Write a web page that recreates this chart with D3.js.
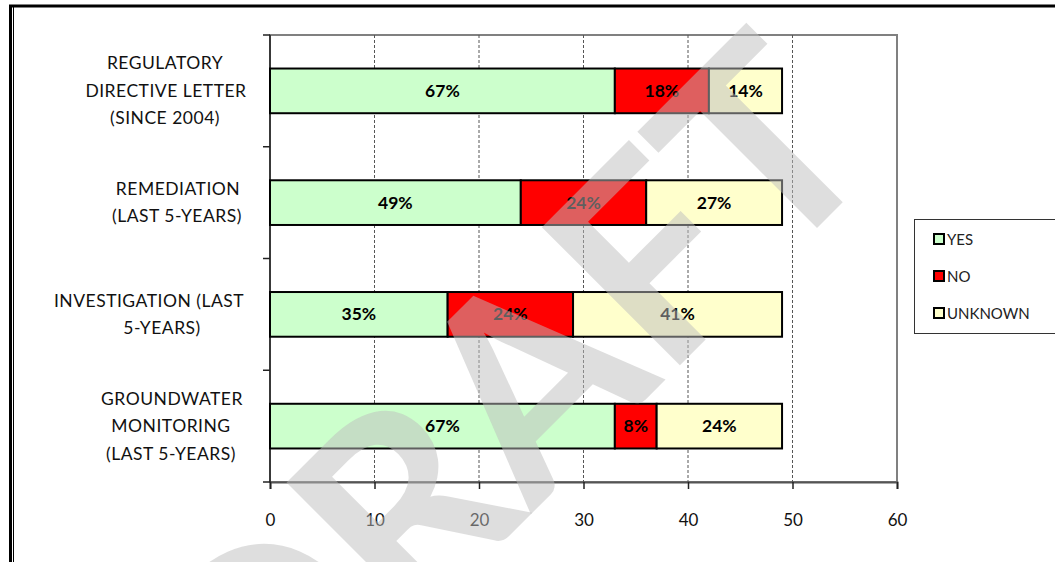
<!DOCTYPE html>
<html>
<head>
<meta charset="utf-8">
<script src="https://cdn.jsdelivr.net/npm/d3@7"></script>
<style>
  body { margin: 0; background: #fff; }
  svg text { font-family: Lato, "Open Sans", sans-serif; }
</style>
</head>
<body>
<div id="vis-container"></div>
<script>
const width = 1055;
const height = 562;
const margin = { top: 35, right: 158, bottom: 80, left: 270 };

// data (counts, bar totals = 49)
const categories = [
  ["REGULATORY", "DIRECTIVE LETTER", "(SINCE 2004)"],
  ["REMEDIATION", "(LAST 5-YEARS)"],
  ["INVESTIGATION (LAST", "5-YEARS)"],
  ["GROUNDWATER", "MONITORING", "(LAST 5-YEARS)"]
];
const seriesNames = ["YES", "NO", "UNKNOWN"];
const yesValues = [33, 24, 17, 33];
const noValues = [9, 12, 12, 4];
const unknownValues = [7, 13, 20, 12];
const yesLabels = ["67%", "49%", "35%", "67%"];
const noLabels = ["18%", "24%", "24%", "8%"];
const unknownLabels = ["14%", "27%", "41%", "24%"];
const xTicks = [0, 10, 20, 30, 40, 50, 60];
const colors = ["#ccffcc", "#ff0000", "#ffffcc"];

// horizontal centre of each wrapped label line (excel wraps a bit unevenly)
const labelCenters = [[165, 166, 165], [178, 177], [149, 162], [172, 171, 171]];

const svg = d3.select("#vis-container")
  .append("svg")
  .attr("width", width)
  .attr("height", height);

// page frame
svg.append("line").attr("x1", 9).attr("x2", width).attr("y1", 6).attr("y2", 6)
  .attr("stroke", "#000").attr("stroke-width", 3);
svg.append("line").attr("x1", 10.5).attr("x2", 10.5).attr("y1", 5).attr("y2", height)
  .attr("stroke", "#000").attr("stroke-width", 3);
svg.append("line").attr("x1", 13.5).attr("x2", 13.5).attr("y1", 7).attr("y2", height)
  .attr("stroke", "#000").attr("stroke-width", 1);

const x = d3.scaleLinear()
  .domain([0, 60])
  .range([margin.left, width - margin.right]);

const y = d3.scaleBand()
  .domain(d3.range(categories.length))
  .range([margin.top, height - margin.bottom])
  .paddingInner(0.6)
  .paddingOuter(0.3);

const bandTop = d3.scaleBand()
  .domain(d3.range(categories.length))
  .range([margin.top, height - margin.bottom]);

// plot border
svg.append("rect")
  .attr("x", x(0)).attr("y", margin.top)
  .attr("width", x(60) - x(0))
  .attr("height", height - margin.bottom - margin.top)
  .attr("fill", "none").attr("stroke", "#808080").attr("stroke-width", 2);

// gridlines
svg.append("g")
  .selectAll("line")
  .data(xTicks.slice(1, -1))
  .enter()
  .append("line")
  .attr("x1", d => x(d)).attr("x2", d => x(d))
  .attr("y1", margin.top).attr("y2", height - margin.bottom)
  .attr("stroke", "#555").attr("stroke-width", 1)
  .attr("stroke-dasharray", "3,2");

// x axis
svg.append("g")
  .attr("transform", `translate(0,${height - margin.bottom})`)
  .call(d3.axisBottom(x).tickValues(xTicks).tickSize(7).tickPadding(25))
  .call(g => g.select(".domain").attr("stroke", "#555").attr("stroke-width", 2))
  .call(g => g.selectAll(".tick line").attr("stroke", "#222").attr("stroke-width", 1.5))
  .call(g => g.selectAll(".tick text").attr("font-size", "17px").attr("fill", "#111")
    .attr("font-family", "Lato, sans-serif"));

// y axis (category boundary ticks)
const boundaries = d3.range(categories.length + 1).map(i => margin.top + i * bandTop.bandwidth());
svg.append("line")
  .attr("x1", x(0)).attr("x2", x(0))
  .attr("y1", margin.top).attr("y2", height - margin.bottom)
  .attr("stroke", "#222").attr("stroke-width", 1.5);
svg.append("g")
  .selectAll("line")
  .data(boundaries)
  .enter()
  .append("line")
  .attr("x1", x(0) - 7).attr("x2", x(0))
  .attr("y1", d => d).attr("y2", d => d)
  .attr("stroke", "#222").attr("stroke-width", 1.5);

// category labels
const catG = svg.append("g");
categories.forEach((lines, i) => {
  const cy = bandTop(i) + bandTop.bandwidth() / 2;
  const lh = 27.5;
  const t = catG.append("text")
    .attr("text-anchor", "middle")
    .attr("font-size", "17.5px")
    .attr("letter-spacing", "0.5px")
    .attr("fill", "#111");
  lines.forEach((ln, j) => {
    t.append("tspan")
      .attr("x", labelCenters[i][j])
      .attr("y", cy + (j - (lines.length - 1) / 2) * lh + 6)
      .text(ln);
  });
});

// stacked bars
const rows = categories.map((c, i) => [yesValues[i], noValues[i], unknownValues[i]]);
const labels = categories.map((c, i) => [yesLabels[i], noLabels[i], unknownLabels[i]]);
rows.forEach((vals, i) => {
  let start = 0;
  vals.forEach((v, k) => {
    svg.append("rect")
      .attr("x", x(start))
      .attr("y", y(i))
      .attr("width", x(start + v) - x(start))
      .attr("height", y.bandwidth())
      .attr("fill", colors[k])
      .attr("stroke", "#000")
      .attr("stroke-width", 2);
    svg.append("text")
      .attr("x", (x(start) + x(start + v)) / 2)
      .attr("y", y(i) + y.bandwidth() / 2 + 6)
      .attr("text-anchor", "middle")
      .attr("font-size", "17.5px")
      .attr("font-weight", "bold")
      .attr("fill", "#000")
      .text(labels[i][k]);
    start += v;
  });
});

// legend
const legend = svg.append("g");
legend.append("rect")
  .attr("x", 914.5).attr("y", 219.5).attr("width", 150).attr("height", 114)
  .attr("fill", "#fff").attr("stroke", "#333").attr("stroke-width", 1);
seriesNames.forEach((s, k) => {
  const ly = 239 + k * 37;
  legend.append("rect")
    .attr("x", 934).attr("y", ly - 5).attr("width", 10).attr("height", 10)
    .attr("fill", colors[k]).attr("stroke", "#000").attr("stroke-width", 2);
  legend.append("text")
    .attr("x", 947).attr("y", ly + 6)
    .attr("font-size", "15px").attr("fill", "#222")
    .text(s);
});

// DRAFT watermark
svg.append("text")
  .attr("transform", "translate(502,396) rotate(-45)")
  .attr("text-anchor", "middle")
  .attr("dominant-baseline", "central")
  .attr("font-family", "'Liberation Sans', Arial, sans-serif")
  .attr("font-weight", "bold")
  .attr("font-size", "270px")
  .attr("fill", "#bebebe")
  .attr("fill-opacity", 0.5)
  .text("DRAFT");
</script>
</body>
</html>
